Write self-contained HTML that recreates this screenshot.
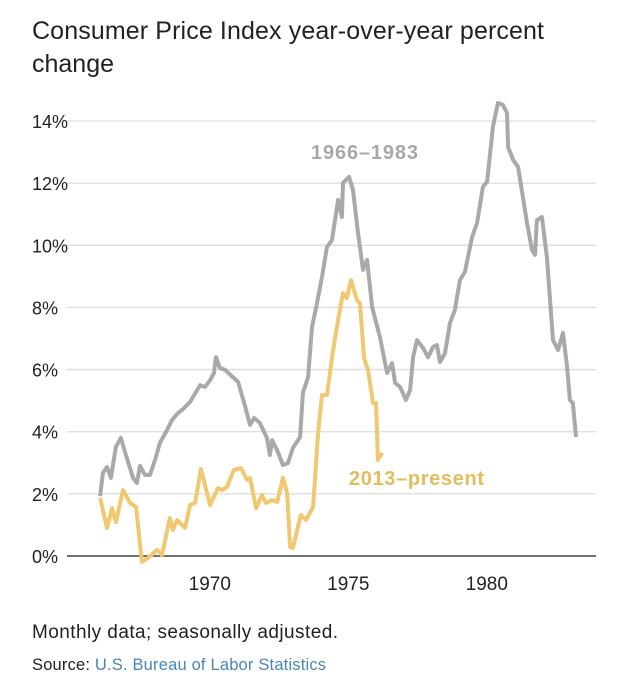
<!DOCTYPE html>
<html><head><meta charset="utf-8"><style>
body{margin:0;background:#fff;font-family:"Liberation Sans",sans-serif;}
#wrap{position:relative;width:631px;height:680px;overflow:hidden;}
</style></head><body>
<div id="wrap">
<svg id="chart" width="631" height="680">
<text x="32" y="39" font-size="25" fill="#222" textLength="512">Consumer Price Index year-over-year percent</text>
<text x="32" y="72" font-size="25" fill="#222">change</text>
<g id="grid"></g>
<g id="lines"></g>
<text x="311" y="159" font-size="20" font-weight="bold" fill="#a8a8a8" textLength="107">1966–1983</text>
<text x="349" y="485" font-size="20" font-weight="bold" fill="#e3bd5c" textLength="135">2013–present</text>
<text x="32" y="638" font-size="19" fill="#222" textLength="306">Monthly data; seasonally adjusted.</text>
<text x="32" y="670" font-size="16.5" fill="#222" textLength="294">Source: <tspan fill="#4a86b8">U.S. Bureau of Labor Statistics</tspan></text>
</svg>
</div>
<script>
const yTicks=[0,2,4,6,8,10,12,14];
const xTicks=[1970,1975,1980];
const grayYears=[1966.04,1966.14,1966.29,1966.43,1966.61,1966.79,1966.97,1967.23,1967.37,1967.48,1967.66,1967.84,1968.02,1968.20,1968.42,1968.64,1968.82,1969.07,1969.29,1969.65,1969.83,1970.01,1970.15,1970.22,1970.37,1970.55,1971.02,1971.27,1971.45,1971.60,1971.81,1972.06,1972.17,1972.25,1972.43,1972.64,1972.82,1973.00,1973.26,1973.36,1973.55,1973.69,1973.87,1974.05,1974.23,1974.41,1974.52,1974.63,1974.77,1974.81,1975.03,1975.17,1975.35,1975.53,1975.68,1975.86,1976.14,1976.40,1976.58,1976.69,1976.87,1977.08,1977.23,1977.34,1977.48,1977.70,1977.88,1978.06,1978.20,1978.31,1978.49,1978.67,1978.85,1979.03,1979.21,1979.47,1979.65,1979.86,1980.01,1980.22,1980.40,1980.58,1980.73,1980.77,1980.95,1981.13,1981.45,1981.63,1981.74,1981.81,1981.99,1982.17,1982.39,1982.57,1982.75,1982.90,1983.00,1983.11,1983.22];
const grayValues=[1.93,2.67,2.86,2.51,3.51,3.80,3.25,2.51,2.35,2.90,2.61,2.61,3.09,3.64,3.99,4.38,4.57,4.76,4.96,5.50,5.44,5.66,5.89,6.40,6.05,5.99,5.60,4.83,4.22,4.44,4.28,3.80,3.25,3.73,3.41,2.93,2.99,3.48,3.83,5.25,5.76,7.37,8.14,8.98,9.95,10.17,10.81,11.46,10.91,12.01,12.20,11.78,10.40,9.21,9.53,8.01,7.05,5.89,6.21,5.57,5.44,5.02,5.34,6.40,6.95,6.69,6.40,6.73,6.79,6.24,6.53,7.50,7.92,8.88,9.14,10.27,10.72,11.88,12.04,13.81,14.58,14.52,14.26,13.16,12.75,12.52,10.72,9.85,9.69,10.81,10.91,9.62,6.95,6.63,7.18,6.08,5.02,4.92,3.83];
const yellowYears=[1966.04,1966.29,1966.47,1966.61,1966.87,1967.12,1967.34,1967.55,1967.77,1968.09,1968.27,1968.56,1968.67,1968.82,1969.10,1969.29,1969.47,1969.68,1970.01,1970.30,1970.44,1970.62,1970.87,1971.13,1971.34,1971.45,1971.67,1971.88,1972.03,1972.25,1972.43,1972.64,1972.79,1972.90,1973.00,1973.29,1973.47,1973.73,1973.91,1974.05,1974.23,1974.45,1974.63,1974.81,1974.95,1975.10,1975.31,1975.42,1975.57,1975.71,1975.89,1976.00,1976.07,1976.22];
const yellowValues=[1.87,0.90,1.54,1.09,2.12,1.71,1.58,-0.19,-0.06,0.19,0.03,1.22,0.84,1.16,0.90,1.64,1.71,2.80,1.64,2.19,2.12,2.22,2.77,2.83,2.45,2.51,1.54,1.96,1.71,1.80,1.74,2.51,2.03,0.29,0.26,1.32,1.16,1.58,3.96,5.18,5.18,6.63,7.60,8.46,8.30,8.88,8.24,8.14,6.37,5.99,4.92,4.92,3.09,3.32];
const NS='http://www.w3.org/2000/svg';
function xs(yr){return 99+(yr-1966)*27.7;}
function ys(v){return 556-v*31.07;}
const grid=document.getElementById('grid');
yTicks.forEach(t=>{
  const l=document.createElementNS(NS,'line');
  l.setAttribute('x1',67);l.setAttribute('x2',596);
  l.setAttribute('y1',ys(t));l.setAttribute('y2',ys(t));
  l.setAttribute('stroke',t===0?'#444':'#dcdcdc');l.setAttribute('stroke-width',t===0?1.6:1.3);
  
  
  grid.appendChild(l);
  const tx=document.createElementNS(NS,'text');
  tx.setAttribute('x',32);tx.setAttribute('y',ys(t)+7);
  tx.setAttribute('font-size','18');tx.setAttribute('fill','#222');
  tx.textContent=t+'%';
  
  
  grid.appendChild(tx);
});
xTicks.forEach(t=>{
  const tx=document.createElementNS(NS,'text');
  tx.setAttribute('x',xs(t));tx.setAttribute('y',590);
  tx.setAttribute('font-size','19');tx.setAttribute('fill','#222');tx.setAttribute('text-anchor','middle');
  tx.textContent=t;
  
  
  grid.appendChild(tx);
});
const lines=document.getElementById('lines');
function draw(years,vals,color,name){
  const p=document.createElementNS(NS,'polyline');
  p.setAttribute('points',years.map((y,i)=>xs(y).toFixed(1)+','+ys(vals[i]).toFixed(1)).join(' '));
  p.setAttribute('fill','none');p.setAttribute('stroke',color);p.setAttribute('stroke-width',4);
  p.setAttribute('stroke-linejoin','round');
  
  
  lines.appendChild(p);
}
draw(grayYears,grayValues,'#a9a9a9','line-1966-1983');
draw(yellowYears,yellowValues,'#efc870','line-2013-present');
</script>
</body></html>
